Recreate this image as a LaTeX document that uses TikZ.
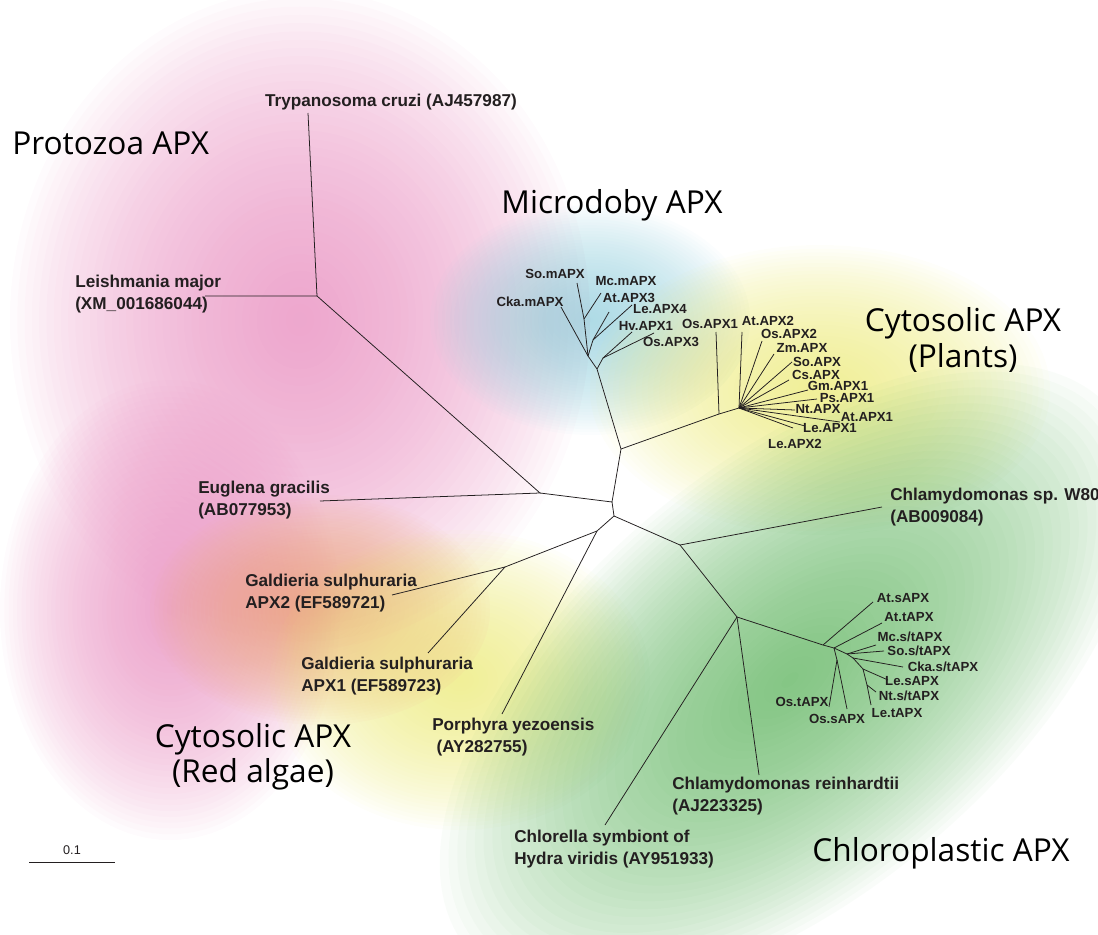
\documentclass[tikz,border=0pt]{standalone}
\usepackage{fontspec}
\setmainfont{Liberation Sans}
\newfontfamily\grpfont{Open Sans}

\definecolor{pinkbg}{RGB}{232,140,190}
\definecolor{bluebg}{RGB}{150,208,222}
\definecolor{yellowbg}{RGB}{236,234,120}
\definecolor{peachbg}{RGB}{238,170,120}
\definecolor{greenbg}{RGB}{95,180,95}
\definecolor{ink}{RGB}{35,31,32}

% soft cloud: stacked ellipses of low opacity
\newcommand\cloud[5][0]{%
  \foreach \k in {1,...,40}
    \fill[#2, opacity=0.034, rotate around={#1:#3}] #3 ellipse ({#4/40*\k} and {#5/40*\k});}

\begin{document}
\begin{tikzpicture}[x=0.25mm, y=-0.25mm,
  br/.style={draw=ink, line width=0.55pt},
  big/.style={inner sep=0pt, align=left, anchor=west, text=ink, font=\fontsize{12.2}{15.5}\selectfont\bfseries},
  sm/.style={inner sep=0pt, text=ink, font=\fontsize{9.4}{11}\selectfont\bfseries},
  grp/.style={inner sep=0pt, align=center, font=\fontsize{22.5}{25}\selectfont\grpfont}]
\useasboundingbox (0,0) rectangle (1098,935);

% coloured clouds
\cloud{pinkbg}{(300,320)}{290}{330}
\cloud{pinkbg}{(170,610)}{170}{230}
\cloud{bluebg}{(590,320)}{160}{115}
\cloud{yellowbg}{(820,390)}{230}{145}
\cloud{peachbg}{(320,610)}{170}{115}
\cloud{yellowbg}{(460,680)}{190}{150}
\cloud[40]{greenbg}{(790,680)}{420}{215}

% group names
\node[grp, anchor=west] (protozoa) at (12,143) {Protozoa APX};
\node[grp] (microdoby) at (612,205) {Microdoby APX};
\node[grp] (cytoplant) at (963,340) {Cytosolic APX\\(Plants)};
\node[grp] (cytored) at (253,757) {Cytosolic APX\\(Red algae)};
\node[grp] (chloro) at (941,853) {Chloroplastic APX};

% backbone
\coordinate (tcru) at (308,113);
\coordinate (lmaj) at (205,296);
\coordinate (n1) at (317,296);
\coordinate (n2) at (540,493);
\coordinate (egra) at (320,501);
\coordinate (n3) at (612,502);
\coordinate (n4) at (621,449);
\coordinate (n5) at (614,516);
\coordinate (n6) at (719,414);
\coordinate (osa1) at (716,332);
\coordinate (mroot) at (597,369);
\coordinate (proot) at (739,408);
\coordinate (rroot) at (597,531);
\coordinate (gnode) at (505,567);
\coordinate (gs2) at (392,595);
\coordinate (gs1) at (428,653);
\coordinate (pyez) at (502,714);
\coordinate (kroot) at (680,545);
\coordinate (csw) at (882,507);
\coordinate (k2) at (737,617);
\coordinate (chy) at (605,825);
\coordinate (cre) at (759,775);

\draw[br] (tcru) -- (n1) -- (lmaj);
\draw[br] (n1) -- (n2) -- (egra);
\draw[br] (n2) -- (n3) -- (n4) -- (mroot);
\draw[br] (n4) -- (n6) -- (proot);
\draw[br] (n6) -- (osa1);
\draw[br] (n3) -- (n5) -- (rroot) -- (gnode) -- (gs2);
\draw[br] (gnode) -- (gs1);
\draw[br] (rroot) -- (pyez);
\draw[br] (n5) -- (kroot) -- (csw);
\draw[br] (kroot) -- (k2) -- (chy);
\draw[br] (k2) -- (cre);

% microdoby clade
\coordinate (mq) at (603,358);
\coordinate (ma) at (588,356);
\coordinate (mb) at (584,319);
\coordinate (mc) at (593,340);
\coordinate (hva1) at (632,332);
\coordinate (osa3) at (654,333);
\coordinate (ckam) at (561,307);
\coordinate (som) at (577,283);
\coordinate (mcm) at (601,293);
\coordinate (ata3) at (609,312);
\coordinate (lea4) at (632,305);
\draw[br] (mroot) -- (mq) -- (hva1);
\draw[br] (mq) -- (osa3);
\draw[br] (mroot) -- (ma) -- (ckam);
\draw[br] (ma) -- (mb) -- (som);
\draw[br] (mb) -- (mcm);
\draw[br] (ma) -- (mc) -- (ata3);
\draw[br] (mc) -- (lea4);

% cytosolic plant clade
\foreach \tip/\pos in {ata2/{742,332}, osa2/{762,341}, zma/{774,354}, soa/{792,362},
    csa/{789,380}, gma1/{808,390}, psa1/{817,399}, nta/{795,410},
    ata1/{840,422}, lea1/{805,426}, lea2/{793,428}}
  \coordinate (\tip) at (\pos);
\foreach \tip in {ata2, osa2, zma, soa, csa, gma1, psa1, nta, ata1, lea1, lea2}
  \draw[br] (proot) -- (\tip);

% chloroplastic clade
\coordinate (s1) at (823,645);
\coordinate (s2) at (834,648);
\coordinate (s3) at (837,660);
\coordinate (s4) at (847,654);
\coordinate (s5) at (853,658);
\coordinate (s6) at (863,669);
\coordinate (s7) at (867,685);
\coordinate (ats) at (873,602);
\coordinate (att) at (882,623);
\coordinate (ost) at (829,707);
\coordinate (oss) at (847,709);
\coordinate (mcst) at (876,645);
\coordinate (sost) at (884,651);
\coordinate (ckast) at (903,667);
\coordinate (les) at (888,680);
\coordinate (ntst) at (876,692);
\coordinate (let) at (871,705);
\draw[br] (k2) -- (s1) -- (ats);
\draw[br] (s1) -- (s2) -- (att);
\draw[br] (s2) -- (s3) -- (ost);
\draw[br] (s3) -- (oss);
\draw[br] (s2) -- (s4) -- (mcst);
\draw[br] (s4) -- (sost);
\draw[br] (s4) -- (s5) -- (ckast);
\draw[br] (s5) -- (s6) -- (les);
\draw[br] (s6) -- (s7) -- (ntst);
\draw[br] (s7) -- (let);

% large labels
\node[big, anchor=center] (l-tcru) at (391,102) {Trypanosoma cruzi (AJ457987)};
\node[big] (l-lmaj) at (75,294) {Leishmania major\\(XM\_001686044)};
\node[big] (l-egra) at (198,500) {Euglena gracilis\\(AB077953)};
\node[big] (l-gs2) at (245,593) {Galdieria sulphuraria\\APX2 (EF589721)};
\node[big] (l-gs1) at (301,676) {Galdieria sulphuraria\\APX1 (EF589723)};
\node[big] (l-pyez) at (432,737) {Porphyra yezoensis\\\hspace{0.25em}(AY282755)};
\node[big] (l-csw) at (890,507) {Chlamydomonas sp. W80\\(AB009084)};
\node[big] (l-chy) at (514,849) {Chlorella symbiont of\\Hydra viridis (AY951933)};
\node[big] (l-cre) at (672,796) {Chlamydomonas reinhardtii\\(AJ223325)};

% small labels
\node[sm] (l-som) at (555,274) {So.mAPX};
\node[sm] (l-mcm) at (626,281) {Mc.mAPX};
\node[sm] (l-ckam) at (530,302) {Cka.mAPX};
\node[sm] (l-ata3) at (629,298) {At.APX3};
\node[sm] (l-lea4) at (660,309) {Le.APX4};
\node[sm] (l-hva1) at (646,326) {Hv.APX1};
\node[sm] (l-osa3) at (671,342) {Os.APX3};
\node[sm] (l-osa1) at (710,324) {Os.APX1};
\node[sm] (l-ata2) at (768,321) {At.APX2};
\node[sm] (l-osa2) at (789,334) {Os.APX2};
\node[sm] (l-zma) at (802,348) {Zm.APX};
\node[sm] (l-soa) at (817,362) {So.APX};
\node[sm] (l-csa) at (816,375) {Cs.APX};
\node[sm] (l-gma1) at (838,386) {Gm.APX1};
\node[sm] (l-psa1) at (847,398) {Ps.APX1};
\node[sm] (l-nta) at (818,409) {Nt.APX};
\node[sm] (l-ata1) at (867,417) {At.APX1};
\node[sm] (l-lea1) at (830,428) {Le.APX1};
\node[sm] (l-lea2) at (795,444) {Le.APX2};
\node[sm] (l-ats) at (903,598) {At.sAPX};
\node[sm] (l-att) at (909,617) {At.tAPX};
\node[sm] (l-mcst) at (910,637) {Mc.s/tAPX};
\node[sm] (l-sost) at (919,651) {So.s/tAPX};
\node[sm] (l-ckast) at (943,667) {Cka.s/tAPX};
\node[sm] (l-les) at (912,681) {Le.sAPX};
\node[sm] (l-ntst) at (909,696) {Nt.s/tAPX};
\node[sm] (l-let) at (897,713) {Le.tAPX};
\node[sm] (l-ost) at (802,702) {Os.tAPX};
\node[sm] (l-oss) at (837,719) {Os.sAPX};

% scale bar
\coordinate (sb1) at (29,862);
\coordinate (sb2) at (115,862);
\draw[br] (sb1) -- (sb2) node[midway, above=1.5pt, font=\fontsize{9}{10}\selectfont, text=ink] (l-sb) {0.1};
\end{tikzpicture}
\end{document}
